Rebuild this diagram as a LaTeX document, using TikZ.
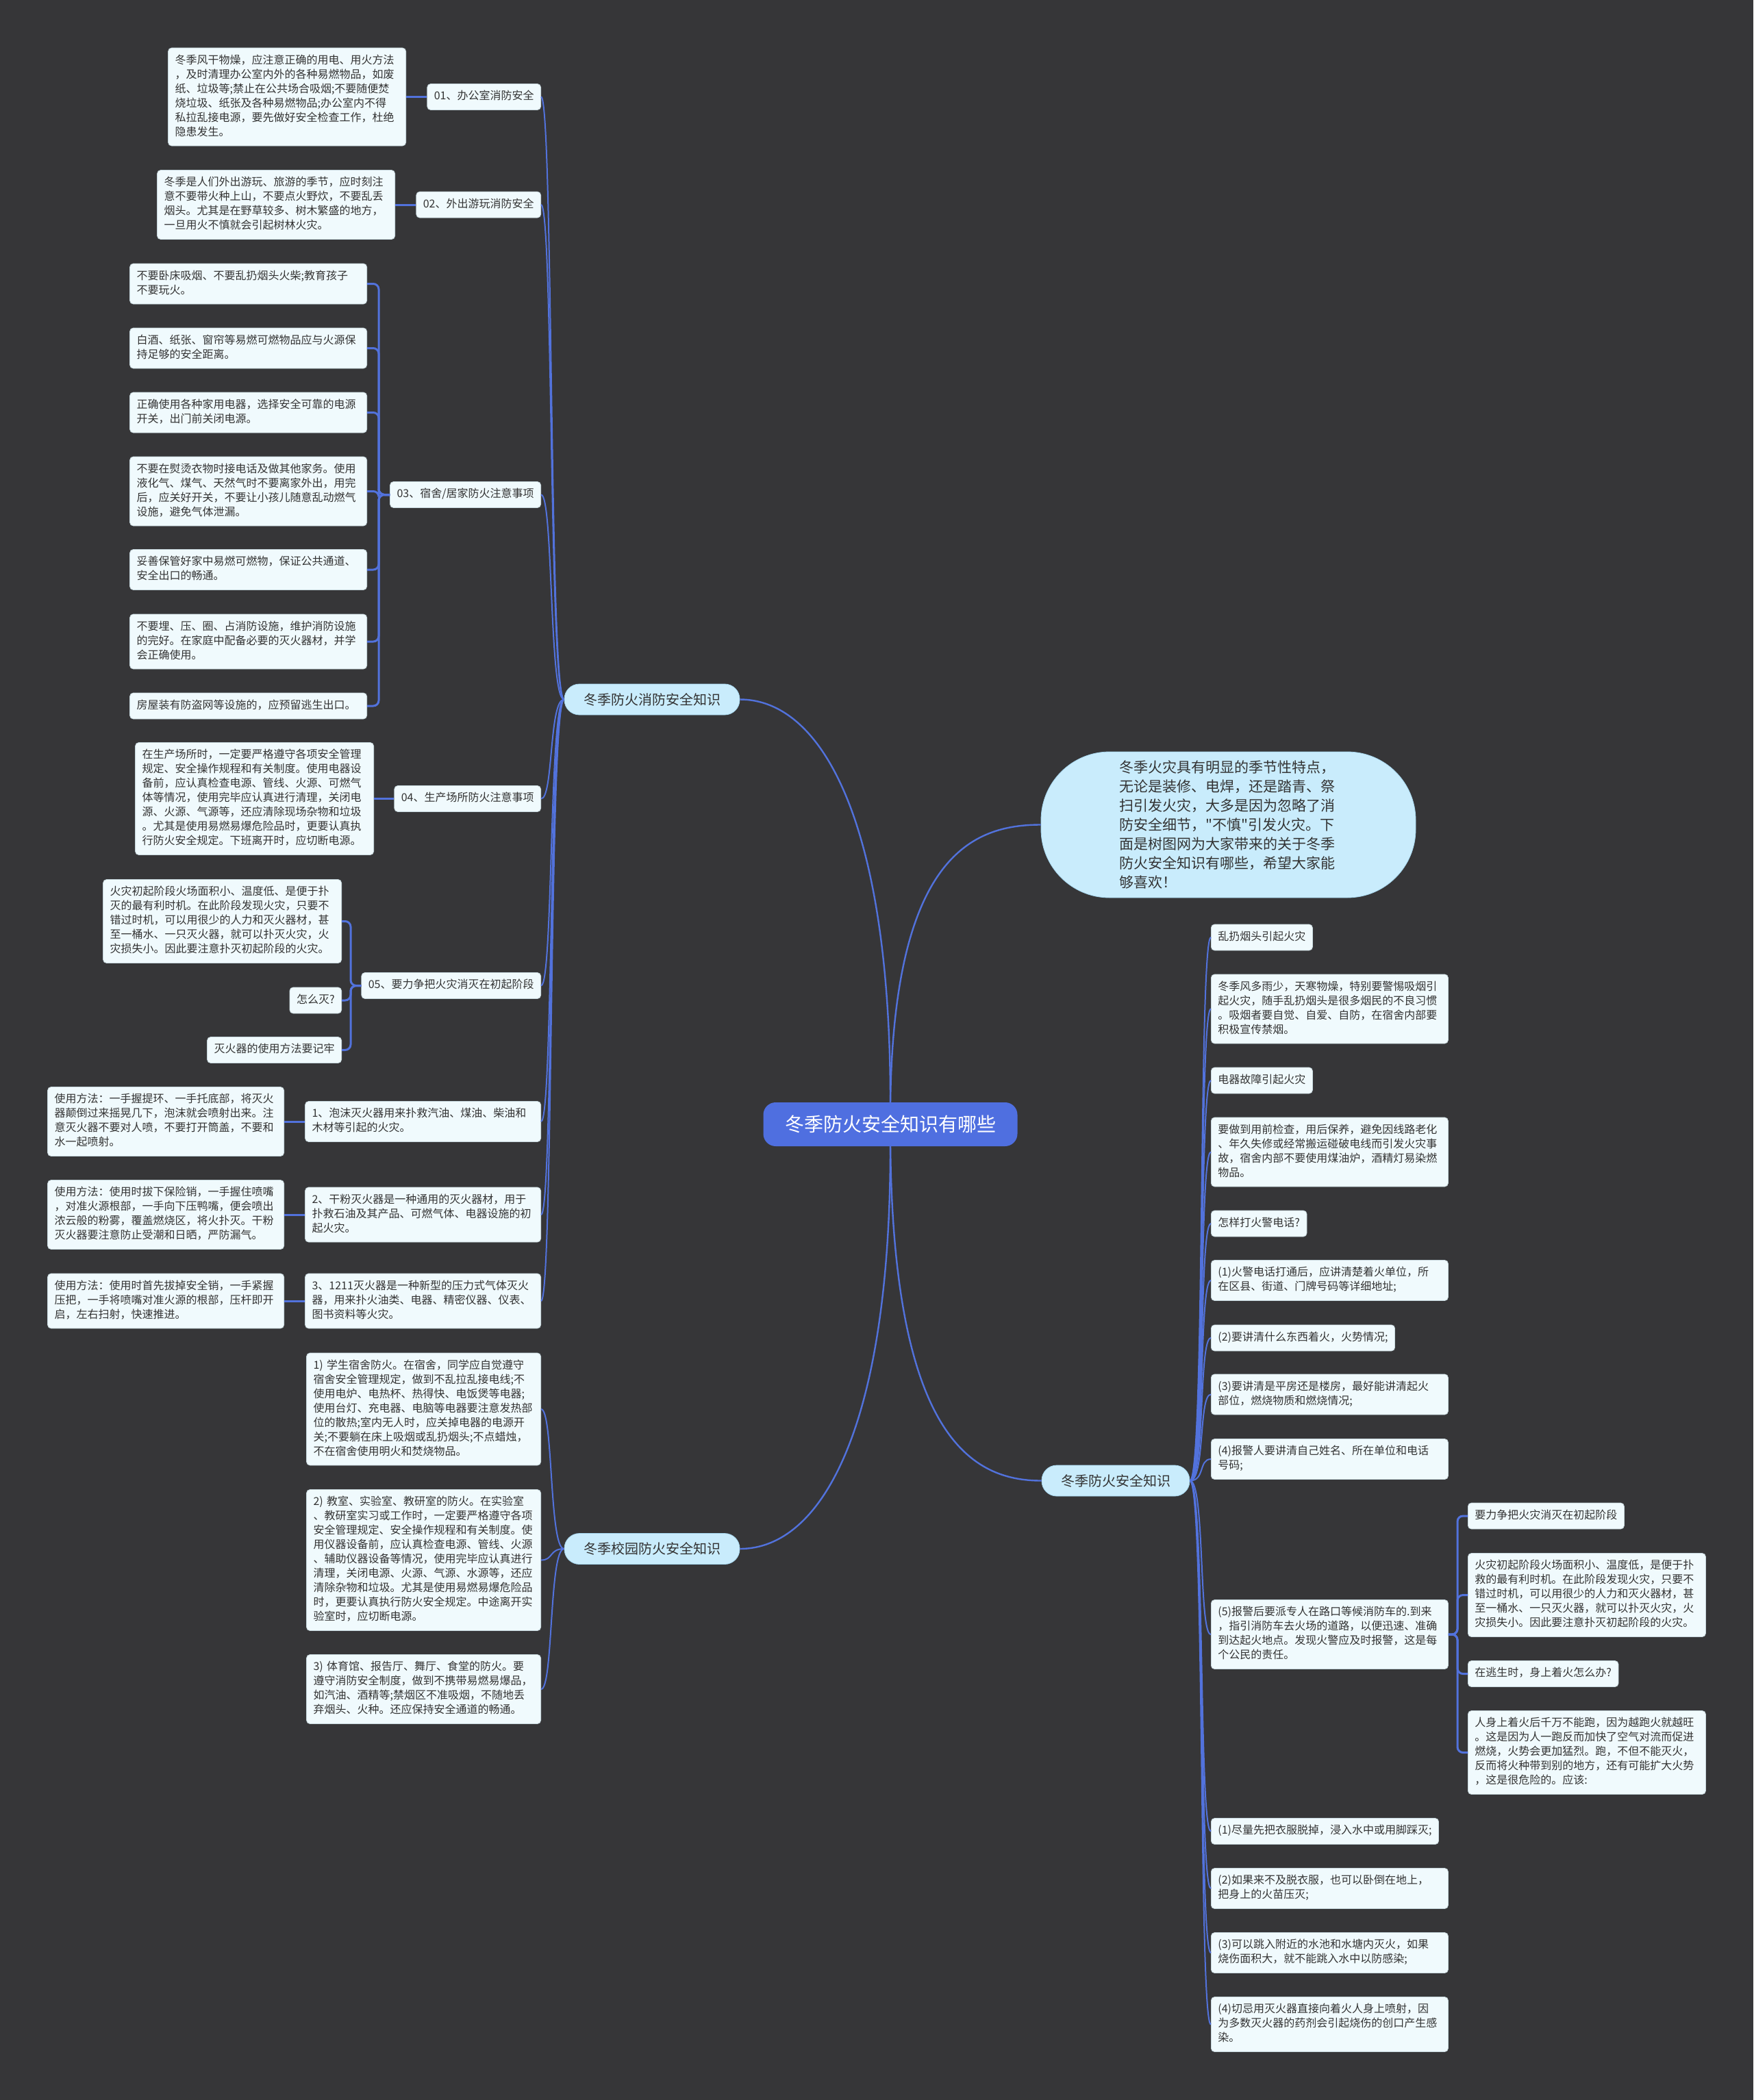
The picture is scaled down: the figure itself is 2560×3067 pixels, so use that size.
\documentclass[tikz,border=0pt]{standalone}
\usepackage{fontspec}
\setmainfont{Noto Sans CJK SC}[Ligatures=TeXOff]
\usetikzlibrary{calc}
\definecolor{bg}{HTML}{363638}
\definecolor{ln}{HTML}{5272DC}
\definecolor{leafc}{HTML}{F0FAFD}
\definecolor{leafb}{HTML}{C6D6DC}
\definecolor{pillc}{HTML}{C9ECFC}
\definecolor{pillb}{HTML}{A6D6EE}
\definecolor{rootc}{HTML}{4F6FE0}
\definecolor{txt}{HTML}{333333}
\newcommand\myleaffont{\fontsize{16}{21}\selectfont}
\begin{document}
\begin{tikzpicture}[x=1pt,y=-1pt,
  leaf/.style={rectangle, rounded corners=5pt, fill=leafc, draw=leafb, line width=0.8pt,
    inner xsep=10pt, inner ysep=8.5pt, font=\myleaffont, text=txt, align=left,
    execute at begin node=\strut, execute at end node=\strut},
  pill/.style={rectangle, rounded corners=22pt, fill=pillc, draw=pillb, line width=0.8pt,
    inner xsep=28pt, minimum height=45pt, font=\fontsize{20}{24}\selectfont, text=txt},
  rootbox/.style={rectangle, rounded corners=18pt, fill=rootc, minimum width=371pt,
    minimum height=64pt, font=\fontsize{28}{34}\selectfont, text=white},
  bubble/.style={rectangle, rounded corners=100pt, fill=pillc, draw=pillb, line width=0.8pt,
    minimum width=547pt, minimum height=213pt, text width=318pt, align=left,
    font=\fontsize{21}{28}\selectfont, text=txt},
  mainln/.style={draw=ln, line width=2.4pt},
  subln/.style={draw=ln, line width=2pt},
  brln/.style={draw=ln, line width=3pt, rounded corners=8pt}
]
\useasboundingbox (0,0) rectangle (2560,3067);
\fill[bg] (0,0) rectangle (2560,3067);

% ---------- root and main branches ----------
\node[rootbox] (root) at (1300,1642) {冬季防火安全知识有哪些};
\node[pill] (A) at (952,1021.5) {冬季防火消防安全知识};
\node[pill] (D) at (952,2262) {冬季校园防火安全知识};
\node[pill] (C) at (1629,2162.5) {冬季防火安全知识};
\node[bubble] (intro) at (1793.5,1204.5) {冬季火灾具有明显的季节性特点，\\无论是装修、电焊，还是踏青、祭\\扫引发火灾，大多是因为忽略了消\\防安全细节，"不慎"引发火灾。下\\面是树图网为大家带来的关于冬季\\防火安全知识有哪些，希望大家能\\够喜欢！};

% ---------- left: A children ----------
\node[leaf,anchor=east] (n01) at (790,141.5) {01、办公室消防安全};
\node[leaf,anchor=east] (n02) at (790,299) {02、外出游玩消防安全};
\node[leaf,anchor=east] (n03) at (790,722.5) {03、宿舍/居家防火注意事项};
\node[leaf,anchor=east] (n04) at (790,1166.5) {04、生产场所防火注意事项};
\node[leaf,anchor=east] (n05) at (790,1439.5) {05、要力争把火灾消灭在初起阶段};
\node[leaf,anchor=east,text width=324pt] (x1) at (790,1638) {1、泡沫灭火器用来扑救汽油、煤油、柴油和\\木材等引起的火灾。};
\node[leaf,anchor=east,text width=324pt] (x2) at (790,1774) {2、干粉灭火器是一种通用的灭火器材，用于\\扑救石油及其产品、可燃气体、电器设施的初\\起火灾。};
\node[leaf,anchor=east,text width=324pt] (x3) at (790,1900) {3、1211灭火器是一种新型的压力式气体灭火\\器，用来扑火油类、电器、精密仪器、仪表、\\图书资料等火灾。};

\node[leaf,anchor=east,text width=327pt] (L01) at (593,141.5) {冬季风干物燥，应注意正确的用电、用火方法\\，及时清理办公室内外的各种易燃物品，如废\\纸、垃圾等;禁止在公共场合吸烟;不要随便焚\\烧垃圾、纸张及各种易燃物品;办公室内不得\\私拉乱接电源，要先做好安全检查工作，杜绝\\隐患发生。};
\node[leaf,anchor=east,text width=327pt] (L02) at (577,299) {冬季是人们外出游玩、旅游的季节，应时刻注\\意不要带火种上山，不要点火野炊，不要乱丢\\烟头。尤其是在野草较多、树木繁盛的地方，\\一旦用火不慎就会引起树林火灾。};

\node[leaf,anchor=east,text width=326pt] (c1) at (536,414.5) {不要卧床吸烟、不要乱扔烟头火柴;教育孩子\\不要玩火。};
\node[leaf,anchor=east,text width=326pt] (c2) at (536,508.5) {白酒、纸张、窗帘等易燃可燃物品应与火源保\\持足够的安全距离。};
\node[leaf,anchor=east,text width=326pt] (c3) at (536,602.5) {正确使用各种家用电器，选择安全可靠的电源\\开关，出门前关闭电源。};
\node[leaf,anchor=east,text width=326pt] (c4) at (536,717.5) {不要在熨烫衣物时接电话及做其他家务。使用\\液化气、煤气、天然气时不要离家外出，用完\\后，应关好开关，不要让小孩儿随意乱动燃气\\设施，避免气体泄漏。};
\node[leaf,anchor=east,text width=326pt] (c5) at (536,832) {妥善保管好家中易燃可燃物，保证公共通道、\\安全出口的畅通。};
\node[leaf,anchor=east,text width=326pt] (c6) at (536,937) {不要埋、压、圈、占消防设施，维护消防设施\\的完好。在家庭中配备必要的灭火器材，并学\\会正确使用。};
\node[leaf,anchor=east,text width=326pt] (c7) at (536,1031) {房屋装有防盗网等设施的，应预留逃生出口。};

\node[leaf,anchor=east,text width=328pt] (L04) at (546,1166.5) {在生产场所时，一定要严格遵守各项安全管理\\规定、安全操作规程和有关制度。使用电器设\\备前，应认真检查电源、管线、火源、可燃气\\体等情况，使用完毕应认真进行清理，关闭电\\源、火源、气源等，还应清除现场杂物和垃圾\\。尤其是使用易燃易爆危险品时，更要认真执\\行防火安全规定。下班离开时，应切断电源。};

\node[leaf,anchor=east,text width=328pt] (f1) at (499,1345.5) {火灾初起阶段火场面积小、温度低、是便于扑\\灭的最有利时机。在此阶段发现火灾，只要不\\错过时机，可以用很少的人力和灭火器材，甚\\至一桶水、一只灭火器，就可以扑灭火灾，火\\灾损失小。因此要注意扑灭初起阶段的火灾。};
\node[leaf,anchor=east] (f2) at (499,1461) {怎么灭?};
\node[leaf,anchor=east] (f3) at (499,1533.5) {灭火器的使用方法要记牢};

\node[leaf,anchor=east,text width=325pt] (e1) at (415,1638) {使用方法：一手握提环、一手托底部，将灭火\\器颠倒过来摇晃几下，泡沫就会喷射出来。注\\意灭火器不要对人喷，不要打开筒盖，不要和\\水一起喷射。};
\node[leaf,anchor=east,text width=325pt] (e2) at (415,1774) {使用方法：使用时拔下保险销，一手握住喷嘴\\，对准火源根部，一手向下压鸭嘴，便会喷出\\浓云般的粉雾，覆盖燃烧区，将火扑灭。干粉\\灭火器要注意防止受潮和日晒，严防漏气。};
\node[leaf,anchor=east,text width=325pt] (e3) at (415,1900) {使用方法：使用时首先拔掉安全销，一手紧握\\压把，一手将喷嘴对准火源的根部，压杆即开\\启，左右扫射，快速推进。};

% ---------- left: D children ----------
\node[leaf,anchor=east,text width=322pt] (s1) at (790,2058) {1) 学生宿舍防火。在宿舍，同学应自觉遵守\\宿舍安全管理规定，做到不乱拉乱接电线;不\\使用电炉、电热杯、热得快、电饭煲等电器;\\使用台灯、充电器、电脑等电器要注意发热部\\位的散热;室内无人时，应关掉电器的电源开\\关;不要躺在床上吸烟或乱扔烟头;不点蜡烛，\\不在宿舍使用明火和焚烧物品。};
\node[leaf,anchor=east,text width=322pt] (s2) at (790,2278.5) {2) 教室、实验室、教研室的防火。在实验室\\、教研室实习或工作时，一定要严格遵守各项\\安全管理规定、安全操作规程和有关制度。使\\用仪器设备前，应认真检查电源、管线、火源\\、辅助仪器设备等情况，使用完毕应认真进行\\清理，关闭电源、火源、气源、水源等，还应\\清除杂物和垃圾。尤其是使用易燃易爆危险品\\时，更要认真执行防火安全规定。中途离开实\\验室时，应切断电源。};
\node[leaf,anchor=east,text width=322pt] (s3) at (790,2467) {3) 体育馆、报告厅、舞厅、食堂的防火。要\\遵守消防安全制度，做到不携带易燃易爆品，\\如汽油、酒精等;禁烟区不准吸烟，不随地丢\\弃烟头、火种。还应保持安全通道的畅通。};

% ---------- right: C children ----------
\node[leaf,anchor=west] (r1) at (1768,1369) {乱扔烟头引起火灾};
\node[leaf,anchor=west,text width=326pt] (r2) at (1768,1473.5) {冬季风多雨少，天寒物燥，特别要警惕吸烟引\\起火灾，随手乱扔烟头是很多烟民的不良习惯\\。吸烟者要自觉、自爱、自防，在宿舍内部要\\积极宣传禁烟。};
\node[leaf,anchor=west] (r3) at (1768,1578) {电器故障引起火灾};
\node[leaf,anchor=west,text width=326pt] (r4) at (1768,1682.5) {要做到用前检查，用后保养，避免因线路老化\\、年久失修或经常搬运碰破电线而引发火灾事\\故，宿舍内部不要使用煤油炉，酒精灯易染燃\\物品。};
\node[leaf,anchor=west] (r5) at (1768,1787) {怎样打火警电话?};
\node[leaf,anchor=west,text width=326pt] (r6) at (1768,1870) {(1)火警电话打通后，应讲清楚着火单位，所\\在区县、街道、门牌号码等详细地址;};
\node[leaf,anchor=west] (r7) at (1768,1954) {(2)要讲清什么东西着火，火势情况;};
\node[leaf,anchor=west,text width=326pt] (r8) at (1768,2036.5) {(3)要讲清是平房还是楼房，最好能讲清起火\\部位，燃烧物质和燃烧情况;};
\node[leaf,anchor=west,text width=326pt] (r9) at (1768,2131) {(4)报警人要讲清自己姓名、所在单位和电话\\号码;};
\node[leaf,anchor=west,text width=326pt] (r10) at (1768,2387) {(5)报警后要派专人在路口等候消防车的.到来\\，指引消防车去火场的道路，以便迅速、准确\\到达起火地点。发现火警应及时报警，这是每\\个公民的责任。};
\node[leaf,anchor=west] (r11) at (1768,2674.5) {(1)尽量先把衣服脱掉，浸入水中或用脚踩灭;};
\node[leaf,anchor=west,text width=326pt] (r12) at (1768,2758) {(2)如果来不及脱衣服，也可以卧倒在地上，\\把身上的火苗压灭;};
\node[leaf,anchor=west,text width=326pt] (r13) at (1768,2852) {(3)可以跳入附近的水池和水塘内灭火，如果\\烧伤面积大，就不能跳入水中以防感染;};
\node[leaf,anchor=west,text width=326pt] (r14) at (1768,2956.5) {(4)切忌用灭火器直接向着火人身上喷射，因\\为多数灭火器的药剂会引起烧伤的创口产生感\\染。};

\node[leaf,anchor=west] (q1) at (2143,2214) {要力争把火灾消灭在初起阶段};
\node[leaf,anchor=west,text width=327pt] (q2) at (2143,2329.5) {火灾初起阶段火场面积小、温度低，是便于扑\\救的最有利时机。在此阶段发现火灾，只要不\\错过时机，可以用很少的人力和灭火器材，甚\\至一桶水、一只灭火器，就可以扑灭火灾，火\\灾损失小。因此要注意扑灭初起阶段的火灾。};
\node[leaf,anchor=west] (q3) at (2143,2444.5) {在逃生时，身上着火怎么办?};
\node[leaf,anchor=west,text width=327pt] (q4) at (2143,2559.5) {人身上着火后千万不能跑，因为越跑火就越旺\\。这是因为人一跑反而加快了空气对流而促进\\燃烧，火势会更加猛烈。跑，不但不能灭火，\\反而将火种带到别的地方，还有可能扩大火势\\，这是很危险的。应该:};

% ---------- connectors ----------
\draw[mainln] (root.north) .. controls (1300,1200) and (1200,1021.5) .. (A.east);
\draw[mainln] (root.north) .. controls (1305,1250) and (1420,1204.5) .. (intro.west);
\draw[mainln] (root.south) .. controls (1305,2100) and (1420,2162.5) .. (C.west);
\draw[mainln] (root.south) .. controls (1300,2084) and (1200,2262) .. (D.east);

\foreach \n in {n01,n02,n03,n04,n05,x1,x2,x3}
  \draw[subln] (A.west) .. controls +(-22,0) and +(18,0) .. (\n.east);
\foreach \n in {s1,s2,s3}
  \draw[subln] (D.west) .. controls +(-22,0) and +(18,0) .. (\n.east);
\foreach \n in {r1,r2,r3,r4,r5,r6,r7,r8,r9,r10,r11,r12,r13,r14}
  \draw[subln] (C.east) .. controls +(22,0) and +(-18,0) .. (\n.west);

\draw[brln] (n01.west) -- (n01.west -| L01.east);
\draw[brln] (n02.west) -- (n02.west -| L02.east);
\draw[brln] (n04.west) -- (n04.west -| L04.east);
\draw[brln] (x1.west) -- (x1.west -| e1.east);
\draw[brln] (x2.west) -- (x2.west -| e2.east);
\draw[brln] (x3.west) -- (x3.west -| e3.east);

\coordinate (b03) at (553,722.5);
\foreach \c in {c1,c2,c3,c4,c5,c6,c7}
  \draw[brln] (n03.west) -- (b03) |- (\c.east);
\coordinate (b05) at (512,1439.5);
\foreach \c in {f1,f2,f3}
  \draw[brln] (n05.west) -- (b05) |- (\c.east);
\coordinate (b10) at (2128,2387);
\foreach \c in {q1,q2,q3,q4}
  \draw[brln] (r10.east) -- (b10) |- (\c.west);
\end{tikzpicture}
\end{document}
